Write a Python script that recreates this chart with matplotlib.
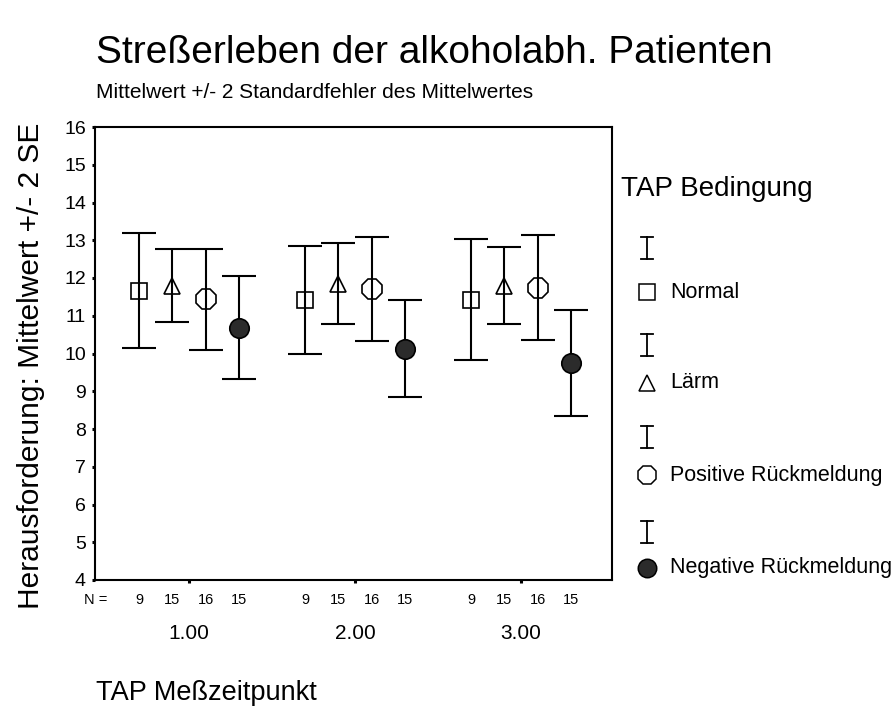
import matplotlib
matplotlib.use("Agg")
import matplotlib.pyplot as plt
import numpy as np

plt.rcParams['font.family'] = ['Liberation Sans', 'DejaVu Sans']

# Measurement points and conditions
timepoints = [1.0, 2.0, 3.0]
timepoint_labels = ["1.00", "2.00", "3.00"]
conditions = ["Normal", "Lärm", "Positive Rückmeldung", "Negative Rückmeldung"]

# Means per condition and timepoint
mean_normal = [11.66, 11.43, 11.43]
mean_laerm = [11.80, 11.85, 11.80]
mean_positive = [11.44, 11.70, 11.74]
mean_negative = [10.68, 10.13, 9.74]

# 2 standard errors of the mean
se2_normal = [1.52, 1.43, 1.60]
se2_laerm = [0.97, 1.07, 1.02]
se2_positive = [1.34, 1.38, 1.39]
se2_negative = [1.36, 1.28, 1.40]

# Group sizes
n_normal = [9, 9, 9]
n_laerm = [15, 15, 15]
n_positive = [16, 16, 16]
n_negative = [15, 15, 15]

means = [mean_normal, mean_laerm, mean_positive, mean_negative]
errs = [se2_normal, se2_laerm, se2_positive, se2_negative]
ns = [n_normal, n_laerm, n_positive, n_negative]
offsets = [-0.3, -0.1, 0.1, 0.3]

marker_styles = [
    dict(marker='s', markersize=12, markerfacecolor='none'),
    dict(marker='^', markersize=11.5, markerfacecolor='none'),
    dict(marker='8', markersize=15, markerfacecolor='none'),
    dict(marker='o', markersize=14, markerfacecolor='#2b2b2b'),
]

W, H = 895, 711
fig = plt.figure(figsize=(W / 100, H / 100), dpi=100)
ax = fig.add_axes([95 / W, 1 - 580 / H, (612 - 95) / W, (580 - 127) / H])

for m, e, off, ms in zip(means, errs, offsets, marker_styles):
    x = np.array(timepoints) + off
    ax.errorbar(x, m, yerr=e, fmt='none', ecolor='black', elinewidth=1.5,
                capsize=12, capthick=1.5, zorder=2)
    ax.plot(x, m, linestyle='none', color='black', markeredgecolor='black',
            markeredgewidth=1.2, zorder=3, **ms)

ax.set_xlim(0.434, 3.548)
ax.set_ylim(4, 16)
ax.set_yticks(np.arange(4, 17, 1))
ax.set_xticks(timepoints)
ax.set_xticklabels(timepoint_labels)
ax.tick_params(axis='both', direction='out', length=2.5, width=2.2, color='black')
ax.tick_params(axis='y', labelsize=14, pad=4)
ax.tick_params(axis='x', labelsize=15, pad=29)
for sp in ax.spines.values():
    sp.set_linewidth(1.5)

# Group sizes below the axis
ntrans = ax.get_xaxis_transform()
ax.annotate("N =", xy=(0, -0.044), xycoords='axes fraction',
            xytext=(-8, 0), textcoords='offset points',
            fontsize=10.5, ha='left', va='center')
for nn, off in zip(ns, offsets):
    for t, v in zip(timepoints, nn):
        ax.text(t + off, -0.044, str(v), transform=ntrans, fontsize=10.5,
                ha='center', va='center')

# Titles and axis labels
fig.text(96 / W, 1 - 53 / H, "Streßerleben der alkoholabh. Patienten",
         fontsize=28, ha='left', va='center')
fig.text(96 / W, 1 - 93 / H, "Mittelwert +/- 2 Standardfehler des Mittelwertes",
         fontsize=15, ha='left', va='center')
fig.text(96 / W, 1 - 693 / H, "TAP Meßzeitpunkt", fontsize=19.5,
         ha='left', va='center')
fig.text(31 / W, 1 - 366 / H, "Herausforderung: Mittelwert +/- 2 SE",
         fontsize=21.5, ha='center', va='center', rotation=90)

# Legend
lax = fig.add_axes([0, 0, 1, 1])
lax.set_xlim(0, W)
lax.set_ylim(H, 0)
lax.axis('off')
lax.text(621, 189, "TAP Bedingung", fontsize=20, ha='left', va='center')
ibeam_y = [248, 345, 437, 532]
marker_y = [292, 383, 475, 568]
for cond, ms, yb, ym in zip(conditions, marker_styles, ibeam_y, marker_y):
    lax.plot([647, 647], [yb - 11, yb + 11], color='black', lw=1.3)
    lax.plot([641, 653], [yb - 11, yb - 11], color='black', lw=1.3)
    lax.plot([641, 653], [yb + 11, yb + 11], color='black', lw=1.3)
    lms = dict(ms)
    lms['markersize'] = ms['markersize'] * 0.95
    lax.plot([647], [ym], linestyle='none', color='black',
             markeredgecolor='black', markeredgewidth=1.1, **lms)
    lax.text(670, ym, cond, fontsize=15.5, ha='left', va='center')

fig.savefig("out.png", dpi=100)
